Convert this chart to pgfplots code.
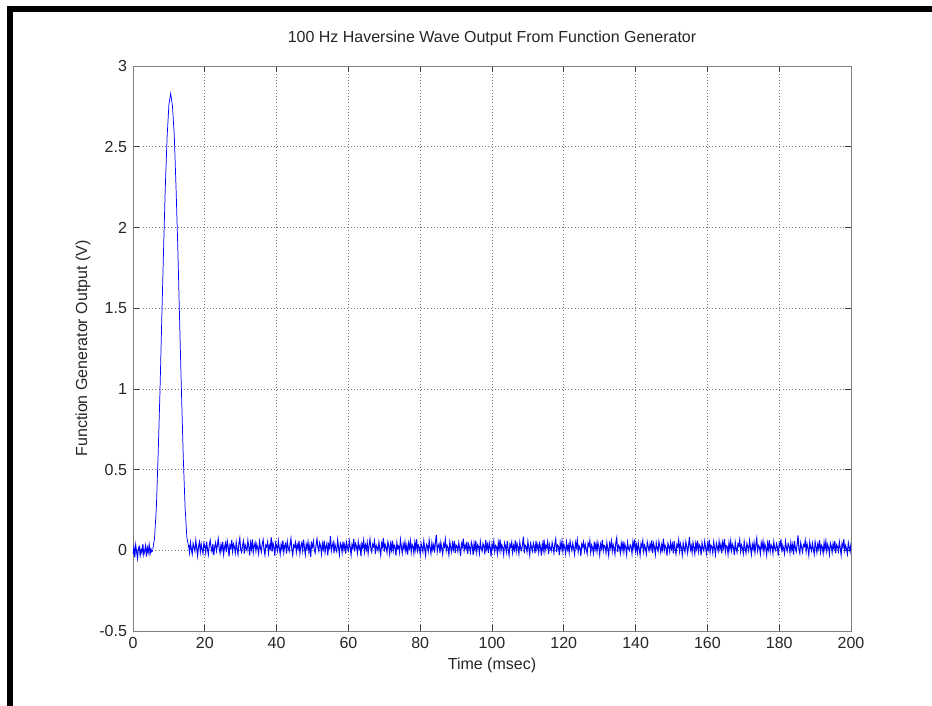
\documentclass[border=0pt]{standalone}
\usepackage{pgfplots}
\pgfplotsset{compat=1.18}
\usepackage{fontspec}
\setmainfont{Liberation Sans}
\begin{document}
\begin{tikzpicture}
\path[use as bounding box, fill=white] (-99.75pt,-56.25pt) rectangle (599.25pt,473.25pt);
\fill[black] (-94.5pt,-56.25pt) rectangle (-90pt,468.75pt);
\fill[black] (-94.5pt,464.25pt) rectangle (599.25pt,468.75pt);
\begin{axis}[
  at={(0pt,0pt)}, anchor=south west,
  scale only axis, width=538.5pt, height=423.75pt,
  xmin=0, xmax=200, ymin=-0.5, ymax=3,
  xtick={0,20,...,200},
  xticklabels={0,20,40,60,80,100,120,140,160,180,200},
  ytick={-0.5,0,0.5,1,1.5,2,2.5,3},
  yticklabels={-0.5,0,0.5,1,1.5,2,2.5,3},
  tick align=inside, major tick length=4.5pt,
  tick style={black!75, line width=0.5pt},
  axis line style={black!50, line width=0.7pt},
  grid=major,
  major grid style={dotted, black!55, line width=0.5pt},
  ticklabel style={font=\fontsize{12}{14}\selectfont, text=black!85},
  xticklabel style={yshift=-1pt},
  yticklabel style={xshift=-1pt},
  title={100 Hz Haversine Wave Output From Function Generator},
  title style={at={(axis description cs:0.5,1.0354)}, anchor=center, font=\fontsize{12}{14}\selectfont, text=black!85},
  xlabel={Time (msec)},
  xlabel style={at={(axis description cs:0.5,-0.0602)}, anchor=center, font=\fontsize{12}{14}\selectfont, text=black!85},
  ylabel={Function Generator Output (V)},
  ylabel style={at={(axis description cs:-0.0696,0.5)}, anchor=center, rotate=0, font=\fontsize{12}{14}\selectfont, text=black!85},
  clip=true,
]
% pre-pulse noise
\addplot[blue, line width=0.75pt] table[row sep=\\, header=false, x expr=\coordindex*0.25, y expr=\thisrowno{0}/650] {
-15\\12\\-28\\20\\-5\\-32\\8\\15\\-20\\3\\-10\\25\\-18\\-2\\18\\-25\\10\\-8\\22\\-14\\5\\-6\\0\\};
% haversine pulse
\addplot[blue, line width=0.55pt] coordinates {
(5.5,0.005) (6,0.075) (6.5,0.26) (7,0.59) (7.5,0.97) (8,1.42) (8.5,1.85) (9,2.25) (9.5,2.56) (10,2.76) (10.5,2.83)
(11,2.75) (11.5,2.57) (12,2.24) (12.5,1.86) (13,1.41) (13.5,0.98) (14,0.58) (14.5,0.27) (15,0.08) (15.5,0.02)};
% post-pulse noise
\addplot[blue, line width=0.75pt] table[row sep=\\, header=false, x expr=15.5+\coordindex*0.25, y expr=\thisrowno{0}/650] {
22\\-8\\31\\5\\-14\\27\\12\\-3\\38\\9\\-21\\16\\33\\-6\\24\\2\\-12\\29\\18\\-9\\
35\\4\\-17\\21\\40\\11\\-5\\26\\-19\\14\\30\\-2\\19\\45\\7\\-11\\23\\1\\34\\-15\\
12\\28\\-7\\37\\16\\-24\\20\\9\\41\\-4\\25\\13\\-10\\32\\6\\-16\\27\\48\\3\\-8\\
18\\36\\-13\\22\\10\\-1\\39\\15\\-20\\29\\5\\44\\-9\\17\\31\\-3\\24\\8\\-14\\35\\
11\\-6\\26\\42\\2\\-18\\21\\14\\33\\-11\\19\\7\\52\\-5\\28\\12\\-22\\30\\16\\-2\\
37\\9\\-15\\23\\4\\40\\-8\\18\\27\\-13\\34\\10\\-4\\25\\47\\1\\-19\\20\\13\\31\\
-7\\22\\6\\38\\-12\\16\\29\\-1\\43\\11\\-17\\24\\8\\33\\-6\\19\\-26\\27\\14\\36\\
3\\-10\\21\\45\\12\\-3\\30\\17\\-14\\26\\5\\39\\-9\\15\\28\\-20\\23\\10\\58\\-2\\
18\\32\\-11\\25\\7\\-5\\41\\13\\-16\\29\\20\\-8\\35\\4\\24\\-13\\31\\11\\-1\\37\\
14\\-18\\22\\9\\46\\-4\\27\\16\\-10\\33\\6\\19\\-23\\26\\12\\40\\-6\\21\\3\\30\\
-12\\17\\44\\8\\-7\\24\\15\\36\\-15\\20\\10\\-2\\32\\5\\-19\\28\\13\\49\\-5\\23\\
11\\-9\\34\\18\\-14\\26\\2\\39\\-3\\21\\12\\-21\\30\\7\\16\\-8\\42\\14\\-11\\25\\
6\\33\\-4\\19\\-17\\28\\9\\37\\-7\\23\\15\\-12\\31\\4\\45\\-1\\20\\11\\-16\\27\\
13\\-6\\36\\8\\-20\\24\\17\\-3\\40\\10\\-13\\29\\3\\22\\-9\\34\\62\\-5\\18\\26\\
-10\\31\\7\\-15\\25\\14\\43\\-2\\19\\9\\-18\\33\\12\\-6\\27\\5\\38\\-11\\21\\16\\
-4\\30\\8\\-22\\26\\13\\47\\-1\\20\\6\\35\\-14\\24\\11\\-8\\32\\17\\-19\\28\\3\\
39\\-7\\22\\15\\-12\\34\\9\\-3\\27\\18\\-16\\41\\5\\23\\-10\\30\\12\\-25\\25\\8\\
36\\-5\\19\\14\\-13\\31\\4\\44\\-2\\21\\10\\-17\\29\\16\\-7\\37\\6\\-20\\24\\13\\
33\\-9\\18\\2\\40\\-4\\26\\11\\-14\\32\\7\\-1\\23\\55\\-11\\20\\15\\-6\\35\\9\\
-18\\27\\12\\-3\\30\\17\\-12\\38\\5\\22\\-8\\28\\14\\-21\\25\\1\\43\\-5\\19\\10\\
34\\-15\\23\\8\\-2\\31\\13\\-10\\26\\45\\-7\\21\\16\\-19\\29\\6\\37\\-4\\24\\11\\
-13\\32\\3\\20\\-9\\36\\15\\-1\\27\\7\\-16\\30\\12\\41\\-6\\18\\9\\-22\\25\\14\\
33\\-3\\22\\5\\-14\\28\\17\\39\\-8\\21\\10\\-12\\35\\4\\26\\-5\\31\\13\\-18\\24\\
8\\42\\-2\\19\\15\\-10\\30\\6\\-20\\27\\12\\37\\-4\\23\\9\\-15\\32\\50\\-7\\20\\
14\\-11\\28\\3\\36\\-6\\25\\11\\-17\\31\\7\\-1\\22\\16\\-13\\34\\10\\44\\-3\\21\\
-9\\29\\5\\-19\\26\\13\\38\\-5\\20\\8\\-14\\33\\15\\-2\\24\\6\\40\\-10\\27\\12\\
-16\\30\\9\\-4\\35\\14\\-8\\22\\3\\47\\-1\\19\\11\\-21\\28\\16\\-6\\32\\7\\25\\
-12\\37\\4\\-15\\23\\13\\41\\-3\\26\\10\\-18\\29\\8\\-7\\34\\15\\-11\\21\\53\\2\\
18\\-9\\31\\12\\-14\\27\\6\\39\\-5\\22\\16\\-20\\30\\9\\-2\\35\\11\\-13\\25\\4\\
43\\-7\\20\\14\\-10\\33\\8\\-17\\28\\13\\-4\\36\\5\\24\\-12\\31\\10\\46\\-6\\19\\
15\\-15\\29\\3\\37\\-1\\23\\12\\-19\\32\\7\\-8\\26\\17\\42\\-4\\21\\9\\-13\\34\\
6\\-11\\27\\14\\-3\\38\\11\\-16\\24\\5\\31\\-9\\22\\48\\-2\\19\\13\\-14\\30\\8\\
36\\-6\\25\\10\\-18\\28\\4\\40\\-5\\21\\15\\-12\\33\\7\\-1\\26\\12\\-21\\29\\16\\
44\\-8\\20\\6\\-14\\35\\11\\-3\\27\\18\\-10\\31\\2\\23\\-17\\37\\9\\-5\\24\\60\\
3\\-13\\30\\12\\-7\\22\\15\\39\\-4\\26\\8\\-19\\32\\11\\-2\\28\\5\\-15\\34\\14\\
-9\\25\\7\\41\\-6\\20\\13\\-12\\31\\4\\36\\-3\\23\\10\\-16\\29\\17\\-8\\27\\6\\
38\\-11\\22\\14\\-4\\33\\9\\-18\\26\\12\\45\\-1\\19\\7\\-14\\30\\11\\-6\\25\\16\\};
\end{axis}
\end{tikzpicture}
\end{document}
